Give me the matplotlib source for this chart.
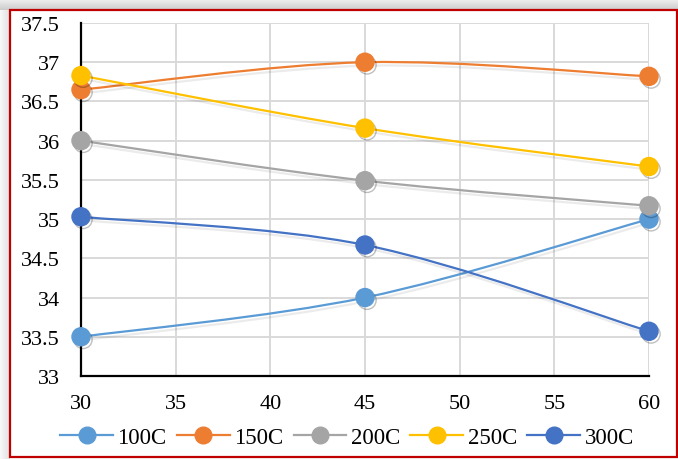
import numpy as np
import matplotlib
matplotlib.use("Agg")
import matplotlib.pyplot as plt
from matplotlib.path import Path
from matplotlib.patches import PathPatch, Rectangle
from matplotlib.lines import Line2D
import matplotlib.patheffects as pe

# data
x_vals = [30, 45, 60]
t100 = [33.5, 34.0, 35.0]
t150 = [36.65, 37.0, 36.82]
t200 = [36.0, 35.49, 35.17]
t250 = [36.83, 36.16, 35.67]
t300 = [35.03, 34.67, 33.57]
labels = ["100C", "150C", "200C", "250C", "300C"]
colors = ["#5B9BD5", "#ED7D31", "#A5A5A5", "#FFC000", "#4472C4"]

plt.rcParams['font.family'] = ['Liberation Serif', 'DejaVu Serif']


def smooth_path(xs, ys):
    # excel-like smoothed line: cubic bezier through the points
    pts = np.column_stack([xs, ys]).astype(float)
    verts = [pts[0]]
    codes = [Path.MOVETO]
    n = len(pts)
    for i in range(n - 1):
        p0 = pts[i - 1] if i > 0 else pts[i]
        p1 = pts[i]
        p2 = pts[i + 1]
        p3 = pts[i + 2] if i + 2 < n else pts[i + 1]
        c1 = p1 + (p2 - p0) / 6.0
        c2 = p2 - (p3 - p1) / 6.0
        verts += [c1, c2, p2]
        codes += [Path.CURVE4] * 3
    return Path(verts, codes)


fig = plt.figure(figsize=(6.78, 4.60), dpi=100)
fig.patch.set_facecolor("white")

# grey shadow strip above the frame
bg = fig.add_axes([0, 449 / 460, 1, 11 / 460], zorder=-5)
grad = np.linspace(0.94, 0.80, 20).reshape(-1, 1)
bg.imshow(grad, aspect="auto", cmap="gray", vmin=0, vmax=1,
          extent=[0, 1, 0, 1])
bg.axis("off")
bgl = fig.add_axes([0, 0, 10 / 678, 449 / 460], zorder=-5)
gradl = np.linspace(0.97, 0.88, 20).reshape(1, -1)
bgl.imshow(gradl, aspect="auto", cmap="gray", vmin=0, vmax=1,
           extent=[0, 1, 0, 1])
bgl.axis("off")

# red frame
frame = Rectangle((10 / 678, 2 / 460), 667 / 678, 447 / 460,
                  transform=fig.transFigure, fill=True, facecolor="white",
                  edgecolor="#C00000", linewidth=1.6, zorder=-4)
fig.patches.append(frame)

ax = fig.add_axes([81 / 678, 83 / 460, 568 / 678, 353 / 460])
ax.set_facecolor("none")

line_shadow = [pe.SimpleLineShadow(offset=(1.5, -2.5), alpha=0.08, shadow_color="black"),
               pe.Normal()]
mark_shadow = [pe.SimpleLineShadow(offset=(1.5, -2), alpha=0.25, shadow_color="black"),
               pe.Normal()]

series = [t100, t150, t200, t250, t300]
handles = []
for ys, col, lab in zip(series, colors, labels):
    patch = PathPatch(smooth_path(x_vals, ys), fill=False, edgecolor=col,
                      linewidth=1.6, zorder=3, capstyle="round")
    patch.set_path_effects(line_shadow)
    ax.add_patch(patch)
    ax.plot(x_vals, ys, linestyle="none", marker="o", markersize=13,
            color=col, markeredgecolor=col, zorder=4, clip_on=False,
            path_effects=mark_shadow)
    handles.append(Line2D([], [], color=col, linewidth=1.6, marker="o",
                          markersize=12, label=lab))

ax.set_xlim(30, 60)
ax.set_ylim(33, 37.5)
ax.set_xticks(np.arange(30, 61, 5))
ax.set_yticks(np.arange(33, 37.6, 0.5))
ax.set_yticklabels(["33", "33.5", "34", "34.5", "35", "35.5", "36",
                    "36.5", "37", "37.5"])

ax.grid(True, color="#D9D9D9", linewidth=1.4)
ax.set_axisbelow(True)
for s in ["top", "right"]:
    ax.spines[s].set_visible(False)
for s in ["left", "bottom"]:
    ax.spines[s].set_linewidth(1.6)
    ax.spines[s].set_color("black")
    ax.spines[s].set_zorder(2)

ax.tick_params(axis="both", length=0, labelsize=16, colors="black")
ax.tick_params(axis="y", pad=15)
ax.tick_params(axis="x", pad=13)

fig.legend(handles=handles, loc="center", bbox_to_anchor=(347 / 678, 1 - 438 / 460),
           ncol=5, frameon=False, fontsize=16.5, handlelength=2.3,
           handletextpad=0.2, columnspacing=0.45, borderpad=0)

fig.savefig("out.png", dpi=100)
